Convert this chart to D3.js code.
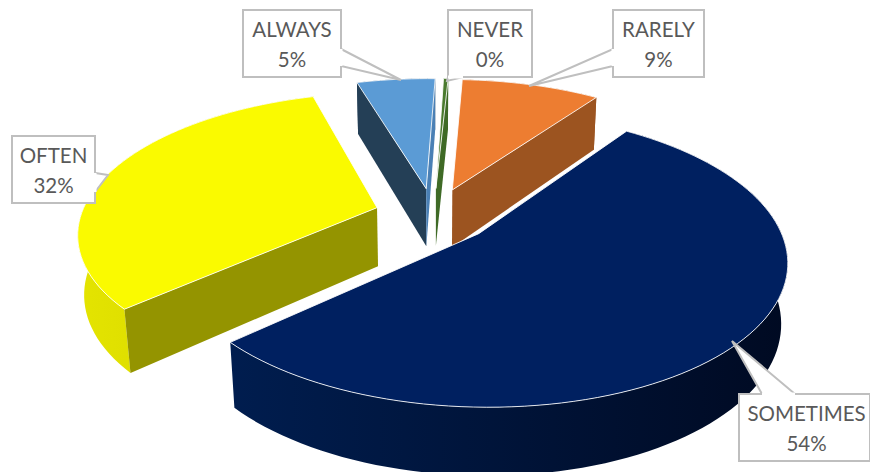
<!DOCTYPE html>
<html><head><meta charset="utf-8"><script src="https://cdn.jsdelivr.net/npm/d3@7"></script>
<style>html,body{margin:0;background:#fff}svg{display:block}</style></head><body><div id="c"></div>
<script>
const categories = ["ALWAYS","NEVER","RARELY","SOMETIMES","OFTEN"];
const values = [5.1,0.3,9.0,53.5,32.1];
const topColors = ["#5b9bd5","#4a7a2e","#ed7d31","#002060","#fafa00"];
const startWallColors = ["#243f56","#3f6a26","#9c5420","#001a4d","#949400"];
const endWallColors = ["#4a80b5","#3f6a26","#9c5420","#001a4d","#949400"];
const outerGradients = [["#243f56","#243f56"],["#3f6a26","#3f6a26"],["#9c5420","#9c5420"],["#001d4f","#000a22"],["#e4e400","#d0d000"]];
const boxes = {
 ALWAYS:{x:243,y:10,w:98,h:67,ptr:[[341,49],[401,80],[341,66]]},
 NEVER:{x:448,y:10,w:84,h:67,ptr:[[463,77],[447,81],[448,77]]},
 RARELY:{x:613,y:10,w:91,h:67,ptr:[[613,66],[529,86],[613,49]]},
 SOMETIMES:{x:739,y:394,w:131,h:67,ptr:[[762,394],[732,341],[795,394]]},
 OFTEN:{x:12,y:136,w:83,h:67,ptr:[[95,192],[108,175],[95,173]]}
};
const W=870,H=472;
const cx=433.5,cy=215,persp=0.17,zPersp=0.018,pull=0.2;
const sx=d3.scaleLinear().domain([-1,1]).range([-296,296]);
const sy=d3.scaleLinear().domain([-1,1]).range([-137,137]);
const sz=d3.scaleLinear().domain([0,1]).range([0,60]);
function project(x,y,z){const w=1-persp*y+zPersp*z;return [cx+sx(x)/w,cy+(sy(y)+sz(z))/w];}
const deg=Math.PI/180;
const arcs=d3.pie().sort(null).value(d=>d).startAngle(-16.5*deg).endAngle(343.5*deg)(values);
const svg=d3.select("#c").append("svg").attr("width",W).attr("height",H);
const defs=svg.append("defs");
outerGradients.forEach((g,i)=>{const lg=defs.append("linearGradient").attr("id","og"+i);
 lg.append("stop").attr("offset","0%").attr("stop-color",g[0]);lg.append("stop").attr("offset","100%").attr("stop-color",g[1]);});
const line=d3.line();
function closed(pts){return line(pts)+"Z";}
const order=[0,1,2,4,3];
order.forEach(i=>{
 const a=arcs[i];
 const mid=(a.startAngle+a.endAngle)/2;
 const ox=pull*Math.sin(mid),oy=-pull*Math.cos(mid);
 const P=(ang,r,z)=>project(ox+r*Math.sin(ang),oy-r*Math.cos(ang),z);
 const angs=d3.range(0,1.0001,1/Math.max(4,Math.ceil((a.endAngle-a.startAngle)/deg/2))).map(t=>a.startAngle+t*(a.endAngle-a.startAngle));
 const g=svg.append("g").attr("class","slice");
 const topArc=angs.map(t=>P(t,1,0));
 const botArc=angs.map(t=>P(t,1,1));
 const apexT=P(0,0,0),apexB=P(0,0,1);
 const startWall=[apexT,topArc[0],botArc[0],apexB];
 const endWall=[apexT,topArc[topArc.length-1],botArc[botArc.length-1],apexB];
 g.append("path").attr("d",closed(topArc.concat(botArc.slice().reverse()))).attr("fill",`url(#og${i})`);
 if(d3.polygonArea(startWall)>0) g.append("path").attr("d",closed(startWall)).attr("fill",startWallColors[i]);
 if(d3.polygonArea(endWall)<0) g.append("path").attr("d",closed(endWall)).attr("fill",endWallColors[i]);
 const top=[apexT].concat(topArc);
 g.append("path").attr("d",closed(top)).attr("fill",topColors[i]).attr("stroke","#fff").attr("stroke-opacity",0.85).attr("stroke-width",1);
});
const fmt=d3.format(".0f");
categories.forEach((c,i)=>{
 const b=boxes[c];
 const g=svg.append("g").attr("class","label");
 g.append("rect").attr("x",b.x).attr("y",b.y).attr("width",b.w).attr("height",b.h).attr("fill","#fff").attr("stroke","#bfbfbf").attr("stroke-width",2);
 g.append("path").attr("d",closed(b.ptr)).attr("fill","#fff").attr("stroke","#bfbfbf").attr("stroke-width",2);
 g.append("path").attr("d",line(b.ptr.filter((_,k)=>k!=1))).attr("fill","none").attr("stroke","#fff").attr("stroke-width",3);
 const t=g.append("text").attr("text-anchor","middle").attr("font-family","Lato, 'Open Sans', sans-serif").attr("font-size",20.5).attr("fill","#595959");
 const dx=c==="SOMETIMES"?2:0;
 t.append("tspan").attr("x",b.x+b.w/2+dx).attr("y",b.y+27).text(c);
 t.append("tspan").attr("x",b.x+b.w/2+dx).attr("y",b.y+57).text(fmt(values[i])+"%");
});
</script></body></html>
